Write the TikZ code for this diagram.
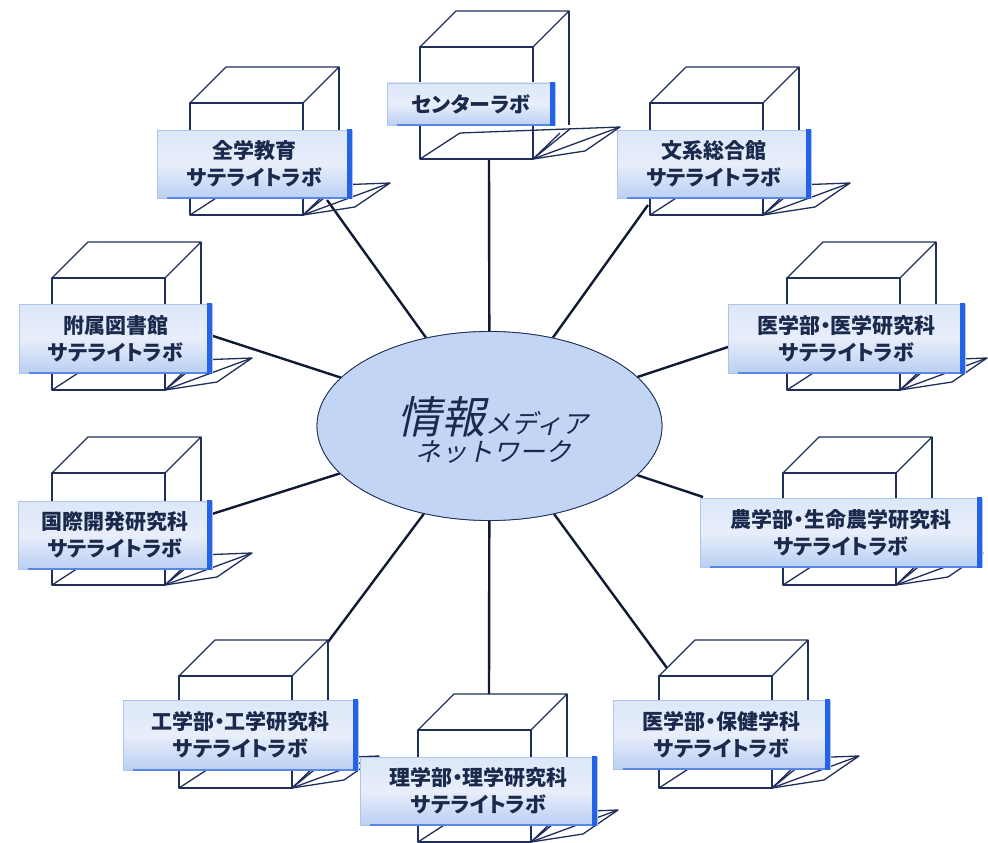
\documentclass[tikz,border=0pt]{standalone}
\usepackage{fontspec}
\newfontfamily\jpfont{Noto Sans CJK JP}[RawFeature=+palt]
\newfontfamily\jpit{Noto Sans CJK JP}[FakeSlant=0.22]
\definecolor{navy}{HTML}{1F2F5A}
\definecolor{txt}{HTML}{1B2A4C}
\definecolor{conncol}{HTML}{101A33}
\definecolor{ellfill}{HTML}{C3D5F5}
\definecolor{lbtop}{HTML}{DCE7F9}
\definecolor{lbmid}{HTML}{E8EEFA}
\definecolor{lbbot}{HTML}{BACFF3}
\definecolor{lbborder}{HTML}{AFC4EA}
\definecolor{barblue}{HTML}{2563E6}
\definecolor{shadowblue}{HTML}{5A86E6}
\tikzset{
  cubeline/.style={draw=navy, line width=1.3pt, line join=round},
  conn/.style={draw=conncol, line width=2.4pt},
  ellnode/.style={ellipse, draw=navy, line width=0.8pt, fill=ellfill, minimum width=345pt, minimum height=189pt, inner sep=0pt},
  labbox/.style={rectangle, draw=lbborder, line width=0.5pt, top color=lbtop, bottom color=lbbot, middle color=lbmid,
     inner sep=0pt, align=center, text=txt, font=\jpfont\bfseries\fontsize{21}{27}\selectfont},
  barline/.style={draw=barblue, line width=5pt},
  shline/.style={draw=shadowblue, line width=1.6pt}
}
\usetikzlibrary{shapes.geometric}
\newcommand\labcube[2]{%
  \begin{scope}[shift={(#1,#2)}]
    \draw[cubeline] (0,0) rectangle (113,112);
    \draw[cubeline] (0,0)--(36,-36)--(149,-36)--(113,0);
    \draw[cubeline] (149,-36)--(149,78);
    \draw[cubeline] (0,112)--(40,86)--(200,80)--(113,112);
    \draw[cubeline] (113,112)--(165,104)--(200,80);
    \draw[cubeline] (113,112)--(140,86) (113,112)--(150,82);
  \end{scope}}
\newcommand\labelbox[6]{% name, cx, cy, W, H, text
  \node[labbox, minimum width=#4pt, minimum height=#5pt] (#1) at (#2,#3) {#6};
  \draw[shline] ([xshift=10pt]#1.south west) -- ([xshift=-2pt]#1.south east);
  \draw[barline] ([xshift=-2.5pt,yshift=1pt]#1.north east) -- ([xshift=-2.5pt,yshift=-1pt]#1.south east);}
\begin{document}
\begin{tikzpicture}[x=1pt,y=-1pt]
\useasboundingbox (0,0) rectangle (988,843);
\fill[white] (0,0) rectangle (988,843);
% connector start points
\coordinate (c1) at (489,159);
\coordinate (c2) at (327,200);
\coordinate (c3) at (648,205);
\coordinate (c4) at (210,335);
\coordinate (c5) at (212,514);
\coordinate (c6) at (728,347);
\coordinate (c7) at (703,497);
\coordinate (c8) at (667,668);
\coordinate (c9) at (328,642);
\coordinate (c10) at (489,694);
% ellipse
\node[ellnode] (ell) at (489.5,426) {};
\foreach \i in {1,...,10} {\draw[conn] (c\i) -- (ell);}
\node[ellnode] at (489.5,426) {};
\node[text=txt, inner sep=0pt, align=center, font=\jpit] (etext) at (493,430)
  {{\fontsize{44}{44}\selectfont 情報}{\fontsize{26}{26}\selectfont メディア}\\[2pt]
   {\fontsize{26}{26}\selectfont ネットワーク}};
% cubes
\labcube{420}{47}
\labcube{190}{103}
\labcube{650}{103}
\labcube{52}{278}
\labcube{52}{473}
\labcube{787}{278}
\labcube{783}{473}
\labcube{659}{676}
\labcube{179}{676}
\labcube{418}{730}
% labels
\labelbox{L1}{471}{104}{168}{42}{センターラボ}
\labelbox{L2}{254.5}{164}{195}{68}{全学教育\\サテライトラボ}
\labelbox{L3}{714}{164}{194}{68}{文系総合館\\サテライトラボ}
\labelbox{L4}{115.5}{338.5}{193}{69}{附属図書館\\サテライトラボ}
\labelbox{L5}{115}{535}{194}{68}{国際開発研究科\\サテライトラボ}
\labelbox{L6}{846.5}{338.5}{237}{69}{医学部・医学研究科\\サテライトラボ}
\labelbox{L7}{841}{532.5}{282}{69}{農学部・生命農学研究科\\サテライトラボ}
\labelbox{L8}{721.5}{734.5}{217}{69}{医学部・保健学科\\サテライトラボ}
\labelbox{L9}{240.5}{735}{235}{70}{工学部・工学研究科\\サテライトラボ}
\labelbox{L10}{478.5}{791}{237}{68}{理学部・理学研究科\\サテライトラボ}
\end{tikzpicture}
\end{document}
